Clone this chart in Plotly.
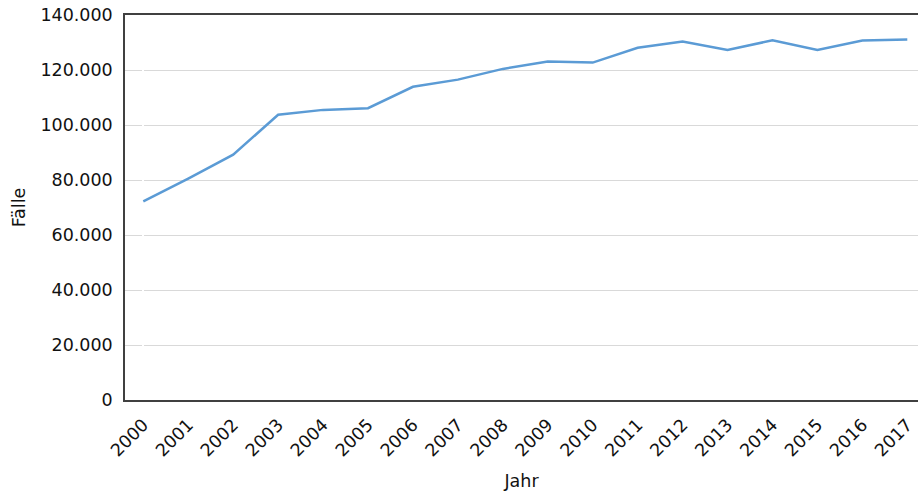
import plotly.graph_objects as go

# Jahr / Fälle
years = [str(y) for y in range(2000, 2018)]
faelle = [72200, 80500, 89200, 103700, 105500, 106100, 113900, 116500, 120400,
          123100, 122700, 128100, 130400, 127300, 130800, 127300, 130700, 131100]

y_ticks = [0, 20000, 40000, 60000, 80000, 100000, 120000, 140000]
y_labels = ["0", "20.000", "40.000", "60.000", "80.000", "100.000", "120.000", "140.000"]

font_family = "DejaVu Sans"
font_size = 17.5

fig = go.Figure()
fig.add_trace(go.Scatter(
    x=list(range(len(years))),
    y=faelle,
    mode="lines",
    line=dict(color="#5B9BD5", width=2.5),
    hoverinfo="skip",
))

fig.update_layout(
    width=918,
    height=493,
    margin=dict(l=125, r=0, t=15, b=93),
    paper_bgcolor="white",
    plot_bgcolor="white",
    showlegend=False,
    font=dict(family=font_family, size=font_size, color="#111111"),
)

fig.update_xaxes(
    tickmode="array",
    tickvals=list(range(len(years))),
    ticktext=years,
    tickangle=-45,
    range=[-0.407, 17.238],
    showgrid=False,
    showline=True,
    mirror=True,
    linecolor="#404040",
    linewidth=1.5,
    ticks="",
    ticklabelstandoff=6,
    title=dict(text="Jahr", standoff=15, font=dict(size=font_size)),
    tickfont=dict(size=font_size),
)

fig.update_yaxes(
    tickmode="array",
    tickvals=y_ticks,
    ticktext=y_labels,
    range=[0, 140000],
    showgrid=True,
    gridcolor="#D9D9D9",
    gridwidth=1,
    showline=True,
    linecolor="#404040",
    linewidth=1.5,
    ticks="",
    zeroline=False,
    ticklabelstandoff=7,
    title=dict(text="Fälle", standoff=10, font=dict(size=font_size)),
    tickfont=dict(size=font_size),
)

fig.write_html("out.html")
